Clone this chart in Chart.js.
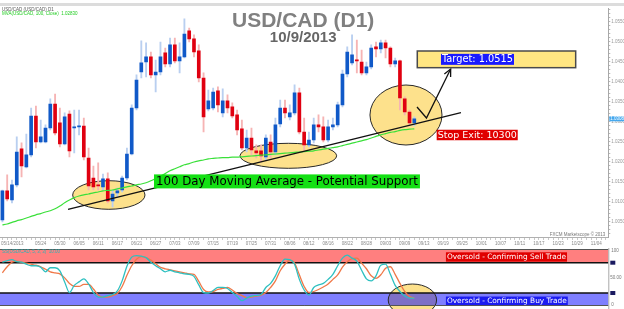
<!DOCTYPE html>
<html><head><meta charset="utf-8">
<script src="https://cdn.jsdelivr.net/npm/chart.js@4.4.1/dist/chart.umd.min.js"></script>
<style>
html,body{margin:0;padding:0;background:#fff;}
#wrap{position:relative;width:624px;height:309px;overflow:hidden;background:#fff;}
#main{position:absolute;left:0;top:0;}
#osc{position:absolute;left:0;top:248px;}
</style></head><body>
<div id="wrap"><canvas id="main" width="624" height="248"></canvas><canvas id="osc" width="624" height="61"></canvas></div>
<script>
// ---------------- DATA ----------------
const startDate = '2013-05-14';
const slotCount = 127;
const opens  = [1.0055,1.0128,1.0105,1.0143,1.0233,1.0188,1.0218,1.0315,1.0250,1.0250,1.0285,1.0345,1.0298,1.0245,1.0320,1.0285,1.0288,1.0290,1.0210,1.0160,1.0143,1.0138,1.0158,1.0103,1.0123,1.0130,1.0160,1.0220,1.0335,1.0425,1.0450,1.0463,1.0418,1.0425,1.0473,1.0445,1.0493,1.0453,1.0463,1.0528,1.0508,1.0478,1.0410,1.0333,1.0335,1.0378,1.0323,1.0353,1.0338,1.0318,1.0283,1.0235,1.0260,1.0228,1.0228,1.0213,1.0250,1.0225,1.0295,1.0335,1.0313,1.0323,1.0373,1.0275,1.0243,1.0255,1.0293,1.0288,1.0255,1.0288,1.0293,1.0343,1.0420,1.0448,1.0455,1.0450,1.0423,1.0438,1.0488,1.0483,1.0498,1.0485,1.0445,1.0453,1.0358,1.0325,1.0298];
const highs  = [1.0130,1.0168,1.0155,1.0263,1.0248,1.0270,1.0335,1.0340,1.0305,1.0293,1.0358,1.0370,1.0335,1.0323,1.0328,1.0330,1.0330,1.0310,1.0235,1.0190,1.0198,1.0170,1.0173,1.0130,1.0135,1.0165,1.0235,1.0343,1.0418,1.0503,1.0498,1.0475,1.0455,1.0500,1.0485,1.0510,1.0510,1.0498,1.0558,1.0535,1.0518,1.0493,1.0423,1.0380,1.0385,1.0388,1.0383,1.0368,1.0348,1.0330,1.0305,1.0280,1.0285,1.0243,1.0243,1.0268,1.0268,1.0310,1.0355,1.0355,1.0343,1.0393,1.0385,1.0310,1.0275,1.0310,1.0318,1.0313,1.0305,1.0310,1.0350,1.0430,1.0488,1.0518,1.0505,1.0480,1.0450,1.0493,1.0500,1.0505,1.0505,1.0488,1.0460,1.0455,1.0363,1.0330,1.0313];
const lows   = [1.0050,1.0103,1.0098,1.0138,1.0163,1.0185,1.0213,1.0235,1.0248,1.0248,1.0280,1.0268,1.0238,1.0243,1.0213,1.0223,1.0268,1.0205,1.0130,1.0130,1.0130,1.0130,1.0098,1.0088,1.0113,1.0125,1.0155,1.0218,1.0330,1.0410,1.0413,1.0410,1.0375,1.0418,1.0438,1.0438,1.0448,1.0423,1.0460,1.0500,1.0463,1.0400,1.0275,1.0328,1.0330,1.0325,1.0313,1.0323,1.0310,1.0268,1.0230,1.0225,1.0218,1.0210,1.0200,1.0205,1.0210,1.0218,1.0288,1.0310,1.0305,1.0318,1.0270,1.0230,1.0238,1.0248,1.0275,1.0250,1.0250,1.0280,1.0288,1.0338,1.0413,1.0443,1.0423,1.0418,1.0418,1.0433,1.0463,1.0473,1.0460,1.0438,1.0438,1.0330,1.0318,1.0290,1.0290];
const closes = [1.0128,1.0108,1.0143,1.0225,1.0190,1.0218,1.0315,1.0250,1.0263,1.0285,1.0345,1.0273,1.0245,1.0313,1.0228,1.0288,1.0290,1.0213,1.0140,1.0138,1.0140,1.0158,1.0103,1.0120,1.0128,1.0160,1.0220,1.0335,1.0405,1.0448,1.0463,1.0418,1.0425,1.0463,1.0445,1.0493,1.0453,1.0463,1.0520,1.0508,1.0475,1.0410,1.0313,1.0353,1.0375,1.0343,1.0353,1.0335,1.0315,1.0280,1.0235,1.0260,1.0230,1.0223,1.0215,1.0260,1.0225,1.0293,1.0335,1.0323,1.0323,1.0373,1.0275,1.0243,1.0255,1.0293,1.0288,1.0255,1.0288,1.0293,1.0343,1.0420,1.0475,1.0468,1.0453,1.0423,1.0438,1.0485,1.0483,1.0498,1.0485,1.0445,1.0453,1.0360,1.0325,1.0298,1.0308];
const ma100  = [1.0043,1.0045,1.0049,1.0053,1.0056,1.0060,1.0064,1.0068,1.0071,1.0075,1.0078,1.0083,1.0090,1.0098,1.0105,1.0111,1.0115,1.0118,1.0120,1.0123,1.0125,1.0128,1.0129,1.0130,1.0133,1.0135,1.0138,1.0140,1.0143,1.0145,1.0148,1.0153,1.0159,1.0165,1.0171,1.0178,1.0183,1.0188,1.0193,1.0196,1.0200,1.0203,1.0205,1.0208,1.0209,1.0210,1.0211,1.0211,1.0212,1.0212,1.0213,1.0214,1.0215,1.0216,1.0217,1.0218,1.0219,1.0220,1.0221,1.0222,1.0223,1.0224,1.0225,1.0226,1.0227,1.0228,1.0230,1.0232,1.0234,1.0236,1.0238,1.0241,1.0244,1.0247,1.0250,1.0253,1.0256,1.0260,1.0264,1.0268,1.0271,1.0274,1.0276,1.0279,1.0281,1.0282,1.0283];
const stochK = [81,84,86,82,81,77,74,74,71,62,70,70,64,42,21,35,42,48,38,21,12,12,15,17,24,44,73,91,94,93,90,81,74,68,62,65,62,60,58,57,53,36,21,20,25,31,31,29,21,13,5,10,14,15,17,31,39,54,74,87,86,77,47,26,16,31,36,39,47,57,74,89,95,89,83,65,48,44,54,75,77,57,35,23,14,10,10];
const stochD = [60,72,81,83,81,79,77,75,72,67,62,60,58,50,39,33,33,37,37,28,16,12,12,15,19,33,55,74,87,92,90,85,78,71,68,66,64,62,60,58,57,43,27,22,23,27,29,31,26,19,15,11,12,14,16,21,31,44,64,77,85,79,56,33,21,23,27,32,38,47,56,71,82,88,89,79,68,54,49,56,69,72,57,39,23,13,10];
const priceMin = 1.00125, priceMax = 1.0585, priceStep = 0.001, priceLabelEvery = 5;
const oscMin = -5.7, oscMax = 107.1, overbought = 80, oversoldLvl = 20;
const titleText = 'USD/CAD (D1)';
const subtitleText = '10/9/2013';
// annotations in data units (slot index, price / oscillator value)
const ellipses = [
  {ci:22.22, cp:1.01175, ri:7.55, rp:0.003575},
  {ci:59.70, cp:1.02155, ri:10.09, rp:0.003125},
  {ci:84.26, cp:1.03175, ri:7.52, rp:0.0075}
];
const trendLine = [[13.7,1.00813],[95.74,1.03233]];
const arrowPath = [[86.56,1.03375],[88.54,1.0310],[93.59,1.04325]];
const maLabel = {i:31.65, p:1.01515, text:'100 Day Moving Average - Potential Support'};
const targetBox = {i1:86.62, i2:119.69, p1:1.04775, p2:1.04358, ti:91.57, text:'Target: 1.0515'};
const stopLabel = {i:90.67, p:1.02675, text:'Stop Exit: 10300'};
const oscEllipse = {ci:85.6, cv:6.15, ri:5.05, rv:31.65};
const sellLabel = {i:92.6, v:91.3, text:'Oversold - Confirming Sell Trade'};
const buyLabel  = {i:92.6, v:4.6,  text:'Oversold - Confirming Buy Trade'};

// categories: trading days from start date
const categories = [];
(function(){
  const d = new Date(startDate + 'T00:00:00Z');
  while (categories.length < slotCount) {
    const wd = d.getUTCDay();
    if (wd !== 0 && wd !== 6) {
      const mm = String(d.getUTCMonth()+1).padStart(2,'0'), dd = String(d.getUTCDate()).padStart(2,'0');
      categories.push(mm + '/' + dd + '/' + d.getUTCFullYear());
    }
    d.setUTCDate(d.getUTCDate()+1);
  }
})();
function xLabelFor(i){
  if (i === 0) return categories[0];
  if (i >= 8 && i % 4 === 0) return categories[i].slice(0,5);
  return '';
}

const BLUE = '#1059c8', RED = '#e00010', BLUE_W = '#b9cff0', RED_W = '#f6b4b4';
const bodyColors = opens.map((o,i)=> closes[i] >= o ? BLUE : RED);
const wickColors = opens.map((o,i)=> closes[i] >= o ? BLUE_W : RED_W);
const AXW = 15.7;
const ELL_FILL = '#fde18c', ELL_LINE = '#2a2a2a';

function tagText(ctx, text, x, yc, h, bg, fg, font, pad){
  ctx.font = font;
  const w = ctx.measureText(text).width;
  ctx.fillStyle = bg; ctx.fillRect(x, yc - h/2, w + pad*2, h);
  ctx.fillStyle = fg; ctx.textBaseline = 'middle'; ctx.textAlign = 'left';
  ctx.fillText(text, x + pad, yc + 0.5);
  return w;
}

// ---------------- MAIN CHART ----------------
const mainDeco = {
  id:'mainDeco',
  beforeDraw(chart){
    const c = chart.ctx; c.save();
    c.fillStyle = '#fff'; c.fillRect(0,0,chart.width,chart.height);
    c.fillStyle = '#dcdcdc'; c.fillRect(0,3,chart.width,3);
    c.restore();
  },
  beforeDatasetsDraw(chart){
    const c = chart.ctx, xs = chart.scales.x, ys = chart.scales.y;
    c.save();
    ellipses.forEach(e=>{
      const cx = xs.getPixelForValue(e.ci), cy = ys.getPixelForValue(e.cp);
      const rx = xs.getPixelForValue(e.ci + e.ri) - cx, ry = cy - ys.getPixelForValue(e.cp + e.rp);
      c.beginPath(); c.ellipse(cx, cy, rx, ry, 0, 0, Math.PI*2);
      c.fillStyle = ELL_FILL; c.fill();
      c.lineWidth = 1; c.strokeStyle = ELL_LINE; c.stroke();
    });
    c.restore();
  },
  afterDatasetsDraw(chart){
    const c = chart.ctx, xs = chart.scales.x, ys = chart.scales.y;
    const X = v => xs.getPixelForValue(v), Y = v => ys.getPixelForValue(v);
    c.save();
    // trend line
    c.beginPath(); c.moveTo(X(trendLine[0][0]), Y(trendLine[0][1])); c.lineTo(X(trendLine[1][0]), Y(trendLine[1][1]));
    c.lineWidth = 1.3; c.strokeStyle = '#111'; c.stroke();
    // arrow
    c.beginPath();
    arrowPath.forEach((p,k)=>{ const px=X(p[0]), py=Y(p[1]); if(k===0) c.moveTo(px,py); else c.lineTo(px,py); });
    c.lineWidth = 1.3; c.strokeStyle = '#111'; c.stroke();
    const a = arrowPath[arrowPath.length-2], b = arrowPath[arrowPath.length-1];
    const ax = X(a[0]), ay = Y(a[1]), bx = X(b[0]), by = Y(b[1]);
    const ang = Math.atan2(by-ay, bx-ax), L = 8;
    c.beginPath();
    c.moveTo(bx - L*Math.cos(ang-0.45), by - L*Math.sin(ang-0.45)); c.lineTo(bx,by);
    c.lineTo(bx - L*Math.cos(ang+0.45), by - L*Math.sin(ang+0.45)); c.stroke();
    // MA label
    tagText(c, maLabel.text, X(maLabel.i), Y(maLabel.p), 14, '#14e014', '#000', '11.8px "DejaVu Sans"', 2);
    // target box
    const tx1 = X(targetBox.i1), tx2 = X(targetBox.i2), ty1 = Y(targetBox.p1), ty2 = Y(targetBox.p2);
    c.fillStyle = '#ffe682'; c.fillRect(tx1, ty1, tx2-tx1, ty2-ty1);
    c.lineWidth = 1.5; c.strokeStyle = '#4a4a4a'; c.strokeRect(tx1, ty1, tx2-tx1, ty2-ty1);
    tagText(c, targetBox.text, X(targetBox.ti), (ty1+ty2)/2, 11, '#1a1aff', '#fff', '9.8px "DejaVu Sans"', 1);
    // stop label
    tagText(c, stopLabel.text, X(stopLabel.i), Y(stopLabel.p), 10.5, '#e00000', '#fff', '9.5px "DejaVu Sans"', 1);
    c.restore();
  },
  afterDraw(chart){
    const c = chart.ctx, xs = chart.scales.x, ys = chart.scales.y, area = chart.chartArea;
    c.save();
    // titles
    c.textAlign = 'center'; c.textBaseline = 'alphabetic';
    c.fillStyle = '#808080'; c.font = 'bold 21px "Liberation Sans"';
    c.fillText(titleText, (area.left+area.right)/2 - 1, 27);
    c.fillStyle = '#666'; c.font = 'bold 15px "Liberation Sans"';
    c.fillText(subtitleText, (area.left+area.right)/2 - 1, 41.7);
    // tiny header texts
    c.textAlign = 'left'; c.font = '4.5px "Liberation Sans"';
    c.fillStyle = '#555'; c.fillText('USD/CAD (USD/CAD) D1', 2, 10.5);
    c.fillStyle = '#22cc22'; c.fillText('MVA(USD/CAD, 100, Close)  ' + ma100[ma100.length-1].toFixed(5), 2, 14.5);
    c.fillStyle = '#777'; c.textAlign = 'right'; c.fillText('FXCM Marketscope \u00a9 2013', area.right - 3, area.bottom - 1);
    // x labels
    c.fillStyle = '#888'; c.font = '4.5px "Liberation Sans"'; c.textBaseline = 'middle';
    for (let i = 0; i < slotCount; i++) {
      const t = xLabelFor(i); if (!t) continue;
      c.textAlign = i === 0 ? 'left' : 'center';
      c.fillText(t, i === 0 ? 1 : xs.getPixelForValue(i), 244);
    }
    // current price label
    const last = closes[closes.length-1], ly = ys.getPixelForValue(last);
    c.fillStyle = '#45a8ee'; c.fillRect(area.right+1, ly-2.5, AXW-1, 5);
    c.fillStyle = '#fff'; c.textAlign = 'left'; c.font = '4.5px "Liberation Sans"';
    c.fillText(last.toFixed(5), area.right+2, ly+0.3);
    c.restore();
  }
};

new Chart(document.getElementById('main'), {
  type:'bar',
  data:{
    labels: categories,
    datasets:[
      {type:'line', label:'MA100', data: ma100, borderColor:'#3ae03a', borderWidth:1.2, pointRadius:0, tension:0.3, order:1},
      {type:'bar', label:'Body', data: opens.map((o,i)=>[o, closes[i]]), backgroundColor: bodyColors, barThickness:3, grouped:false, minBarLength:1, borderWidth:0, order:2},
      {type:'bar', label:'Wick', data: lows.map((l,i)=>[l, highs[i]]), backgroundColor: wickColors, barThickness:1.2, grouped:false, borderWidth:0, order:3}
    ]
  },
  options:{
    responsive:false, animation:false,
    layout:{padding:{top:8,left:0,right:0,bottom:0}},
    plugins:{legend:{display:false}, tooltip:{enabled:false}},
    scales:{
      x:{type:'category', offset:true,
         grid:{display:true, drawOnChartArea:false, drawTicks:true, tickLength:3, color:'#c8c8c8', offset:false},
         border:{display:true, color:'#b0b0b0'},
         ticks:{display:false},
         afterFit(s){ s.height = 11; }},
      y:{type:'linear', position:'right', min:priceMin, max:priceMax,
         grid:{display:true, drawOnChartArea:false, drawTicks:true, tickLength:2, color:'#b8b8b8'},
         border:{display:true, color:'#a8a8a8'},
         ticks:{stepSize:priceStep, autoSkip:false, includeBounds:false, padding:1, color:'#999', font:{size:4.5, family:'Liberation Sans'},
                callback:v => (Math.round(v*1000) % priceLabelEvery === 0) ? v.toFixed(5) : ''},
         afterFit(s){ s.width = AXW; }}
    }
  },
  plugins:[mainDeco]
});

// ---------------- OSCILLATOR ----------------
const oscDeco = {
  id:'oscDeco',
  beforeDraw(chart){ const c=chart.ctx; c.save(); c.fillStyle='#fff'; c.fillRect(0,0,chart.width,chart.height); c.restore(); },
  beforeDatasetsDraw(chart){
    const c = chart.ctx, xs = chart.scales.x, ys = chart.scales.y, a = chart.chartArea;
    const Y = v => ys.getPixelForValue(v);
    c.save();
    const cx = xs.getPixelForValue(oscEllipse.ci), cy = Y(oscEllipse.cv);
    const rx = xs.getPixelForValue(oscEllipse.ci + oscEllipse.ri) - cx, ry = cy - Y(oscEllipse.cv + oscEllipse.rv);
    c.beginPath(); c.ellipse(cx, cy, rx, ry, 0, 0, Math.PI*2); c.fillStyle = ELL_FILL; c.fill();
    // bands
    c.fillStyle = 'rgba(255,0,0,0.5)'; c.fillRect(a.left, a.top, a.right-a.left, Y(overbought)-a.top);
    c.fillStyle = 'rgba(0,0,255,0.5)'; c.fillRect(a.left, Y(oversoldLvl), a.right-a.left, a.bottom-Y(oversoldLvl));
    c.beginPath(); c.ellipse(cx, cy, rx, ry, 0, 0, Math.PI*2); c.lineWidth = 1; c.strokeStyle = ELL_LINE; c.stroke();
    c.strokeStyle = '#111'; c.lineWidth = 1.5;
    [overbought, oversoldLvl].forEach(v=>{ c.beginPath(); c.moveTo(a.left, Y(v)); c.lineTo(a.right, Y(v)); c.stroke(); });
    c.strokeStyle = '#555'; c.lineWidth = 1;
    c.beginPath(); c.moveTo(a.left, a.top+0.5); c.lineTo(a.right, a.top+0.5); c.stroke();
    c.beginPath(); c.moveTo(a.left, a.bottom-0.5); c.lineTo(a.right, a.bottom-0.5); c.stroke();
    c.strokeStyle = '#a8a8a8';
    c.beginPath(); c.moveTo(a.right+0.5, 0); c.lineTo(a.right+0.5, chart.height); c.stroke();
    c.restore();
  },
  afterDatasetsDraw(chart){
    const c = chart.ctx, xs = chart.scales.x, ys = chart.scales.y, a = chart.chartArea;
    const X = v => xs.getPixelForValue(v), Y = v => ys.getPixelForValue(v);
    c.save();
    tagText(c, sellLabel.text, X(sellLabel.i), Y(sellLabel.v), 9.4, '#e00000', '#fff', '7.4px "DejaVu Sans"', 1);
    tagText(c, buyLabel.text, X(buyLabel.i), Y(buyLabel.v), 8.5, '#1c1cf0', '#fff', '7.4px "DejaVu Sans"', 1);
    c.font = '4.5px "Liberation Sans"'; c.textAlign = 'left'; c.textBaseline = 'middle';
    c.fillStyle = '#2ab5b5'; c.fillText('SS(USD/CAD, 5, 3, 3)  ' + stochK[stochK.length-1] + '.00', 2, a.top + 3);
    c.fillStyle = '#777';
    c.fillText('100', a.right + 3, Y(100) - 1.5);
    c.fillText('50.00', a.right + 2, Y(50));
    c.fillText('0', a.right + 3, Y(0) + 1.5);
    c.fillStyle = '#1a1a60';
    [overbought, oversoldLvl].forEach(v=>{ c.fillRect(a.right + 2, Y(v) - 2, 5, 4); });
    c.restore();
  }
};

new Chart(document.getElementById('osc'), {
  type:'line',
  data:{
    labels: categories,
    datasets:[
      {label:'%K', data: stochK, borderColor:'#2ec0c0', borderWidth:1.3, pointRadius:0, cubicInterpolationMode:'monotone', order:1},
      {label:'%D', data: stochD, borderColor:'#f07848', borderWidth:1.3, pointRadius:0, cubicInterpolationMode:'monotone', order:2}
    ]
  },
  options:{
    responsive:false, animation:false,
    layout:{padding:{top:1,left:0,right:0,bottom:3}},
    plugins:{legend:{display:false}, tooltip:{enabled:false}},
    scales:{
      x:{type:'category', offset:true, display:false},
      y:{type:'linear', position:'right', min:oscMin, max:oscMax,
         ticks:{display:false}, grid:{display:false}, border:{display:false},
         afterFit(s){ s.width = AXW; }}
    }
  },
  plugins:[oscDeco]
});
</script>
</body></html>
